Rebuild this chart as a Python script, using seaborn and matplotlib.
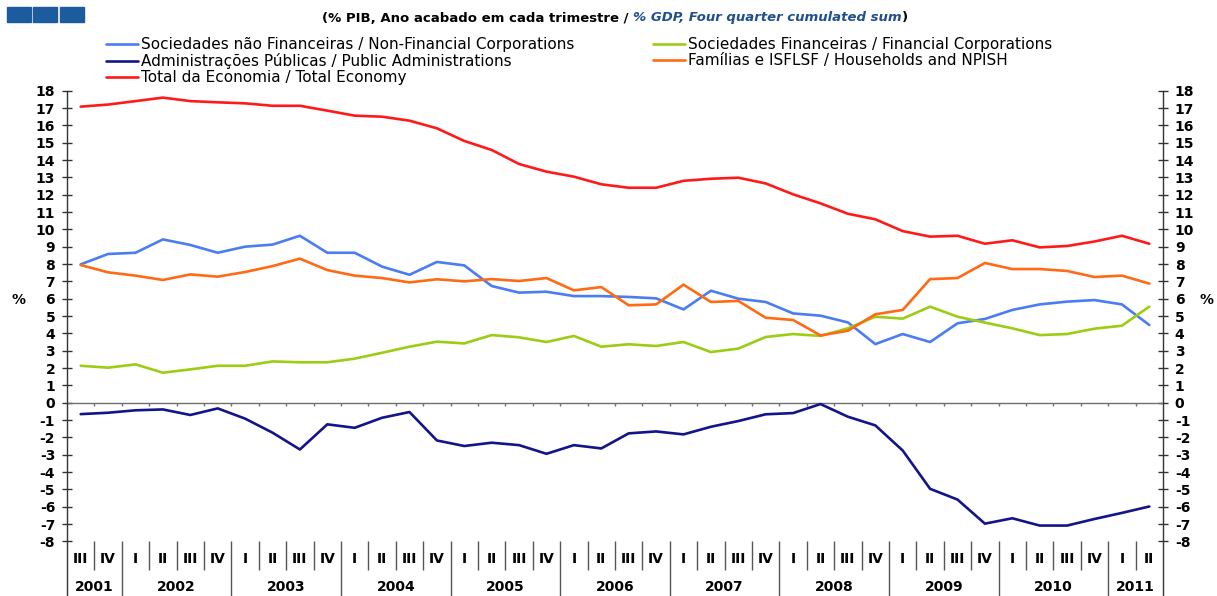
import numpy as np
import pandas as pd
import matplotlib
matplotlib.use("Agg")
import matplotlib.pyplot as plt
from matplotlib.patches import Rectangle
import seaborn as sns

# quarters from 2001 III to 2011 II
quarters = ["III", "IV"] + ["I", "II", "III", "IV"] * 9 + ["I", "II"]
years = ["2001", "2002", "2003", "2004", "2005", "2006",
         "2007", "2008", "2009", "2010", "2011"]

non_financial = [7.98, 8.58, 8.65, 9.42, 9.10, 8.65, 9.00, 9.12, 9.63, 8.65,
                 8.65, 7.85, 7.38, 8.12, 7.92, 6.73, 6.35, 6.40, 6.15, 6.15,
                 6.10, 6.02, 5.38, 6.46, 6.00, 5.81, 5.15, 5.02, 4.63, 3.38,
                 3.96, 3.50, 4.58, 4.83, 5.35, 5.67, 5.83, 5.92, 5.67, 4.48]
financial = [2.13, 2.02, 2.21, 1.73, 1.92, 2.13, 2.13, 2.38, 2.33, 2.33,
             2.54, 2.88, 3.23, 3.52, 3.42, 3.90, 3.77, 3.50, 3.85, 3.23,
             3.37, 3.27, 3.50, 2.92, 3.12, 3.79, 3.96, 3.85, 4.29, 4.96,
             4.85, 5.54, 4.96, 4.62, 4.29, 3.90, 3.96, 4.27, 4.44, 5.54]
public_admin = [-0.66, -0.58, -0.44, -0.39, -0.71, -0.33, -0.92, -1.73, -2.70, -1.25,
                -1.45, -0.87, -0.54, -2.18, -2.50, -2.31, -2.45, -2.95, -2.45, -2.64,
                -1.77, -1.66, -1.83, -1.39, -1.06, -0.67, -0.60, -0.08, -0.81, -1.31,
                -2.76, -4.97, -5.59, -6.98, -6.67, -7.09, -7.09, -6.71, -6.36, -5.99]
households = [7.94, 7.52, 7.33, 7.08, 7.40, 7.27, 7.54, 7.88, 8.31, 7.65,
              7.33, 7.19, 6.94, 7.12, 7.00, 7.13, 7.02, 7.19, 6.48, 6.67,
              5.62, 5.67, 6.81, 5.81, 5.87, 4.90, 4.77, 3.88, 4.15, 5.10,
              5.35, 7.13, 7.19, 8.06, 7.71, 7.71, 7.60, 7.25, 7.33, 6.87]
total_economy = [17.08, 17.20, 17.40, 17.60, 17.40, 17.33, 17.27, 17.13, 17.13, 16.85,
                 16.56, 16.50, 16.27, 15.83, 15.10, 14.58, 13.77, 13.33, 13.04, 12.60,
                 12.40, 12.40, 12.80, 12.92, 12.98, 12.65, 12.02, 11.50, 10.90, 10.58,
                 9.90, 9.58, 9.63, 9.17, 9.37, 8.96, 9.04, 9.30, 9.63, 9.17]

labels = {
    "nfc": "Sociedades não Financeiras / Non-Financial Corporations",
    "pa": "Administrações Públicas / Public Administrations",
    "tot": "Total da Economia / Total Economy",
    "fc": "Sociedades Financeiras / Financial Corporations",
    "hh": "Famílias e ISFLSF / Households and NPISH",
}
colors = {"nfc": "#4a7cf2", "pa": "#14148a", "tot": "#ff1a1a",
          "fc": "#9ccc14", "hh": "#ff6a14"}
series = {"nfc": non_financial, "pa": public_admin, "tot": total_economy,
          "fc": financial, "hh": households}

sns.set_style("white")
plt.rcParams["font.family"] = ["DejaVu Sans"]
plt.rcParams["axes.unicode_minus"] = False
plt.rcParams["text.color"] = "black"
plt.rcParams["ytick.labelcolor"] = "black"

W, H = 1217, 596
fig = plt.figure(figsize=(W / 100, H / 100), dpi=100)

y_top, y_zero, unit = 90.7, 402.7, 17.33
ybottom = -(H - y_zero) / unit
ax = fig.add_axes([67 / W, 0, (1163 - 67) / W, (H - y_top) / H])

x = np.arange(len(quarters))
handles = {}
for key in ["nfc", "pa", "tot", "fc", "hh"]:
    sns.lineplot(x=x, y=series[key], ax=ax, color=colors[key], lw=1.9,
                 label=labels[key])
    handles[key] = ax.lines[-1]
ax.get_legend().remove()

ax.set_xlim(-0.5, len(quarters) - 0.5)
ax.set_ylim(ybottom, 18)
ax.set_yticks(range(-8, 19))
ax.set_xticks([])
for s in ["top", "bottom"]:
    ax.spines[s].set_visible(False)
for s in ["left", "right"]:
    ax.spines[s].set_color("#333333")
    ax.spines[s].set_linewidth(1.0)
ax.tick_params(axis="y", left=True, right=True, labelleft=True, labelright=True,
               direction="inout", length=7, width=1, color="#333333", pad=5,
               labelsize=10, labelcolor="black")
for t in ax.get_yticklabels():
    t.set_fontweight("bold")

# zero line with category ticks
ax.axhline(0, color="#707070", lw=1, zorder=1)
ax.vlines(x[:-1] + 0.5, -0.22, 0, color="#707070", lw=1)

# category labels below the plot
for i, q in enumerate(quarters):
    ax.text(i, -9.0, q, ha="center", va="center", fontsize=10, fontweight="bold")
year_starts = [i for i, q in enumerate(quarters) if q == "I"]
for i in x[:-1]:
    b = i + 0.5
    if (i + 1) in year_starts:
        ax.vlines(b, ybottom, -8, color="#555555", lw=1)
    else:
        ax.vlines(b, -9.65, -8, color="#555555", lw=1)
bounds = [-0.5] + [s - 0.5 for s in year_starts] + [len(quarters) - 0.5]
for k, yr in enumerate(years):
    ax.text((bounds[k] + bounds[k + 1]) / 2, -10.62, yr, ha="center", va="center",
            fontsize=10, fontweight="bold")

fig.text(18 / W, 1 - 300 / H, "%", ha="center", va="center", fontsize=10,
         fontweight="bold")
fig.text(1207 / W, 1 - 300 / H, "%", ha="center", va="center", fontsize=10,
         fontweight="bold")

# legends
leg_kw = dict(loc="upper left", frameon=False, fontsize=11, handlelength=2.1,
              handletextpad=0.2, labelspacing=0.075, borderaxespad=0, borderpad=0,
              labelcolor="black")
fig.legend([handles[k] for k in ["nfc", "pa", "tot"]],
           [labels[k] for k in ["nfc", "pa", "tot"]],
           bbox_to_anchor=(106 / W, 1 - 37 / H), **leg_kw)
fig.legend([handles[k] for k in ["fc", "hh"]],
           [labels[k] for k in ["fc", "hh"]],
           bbox_to_anchor=(653 / W, 1 - 37 / H), **leg_kw)

# logo squares
for x0 in [7, 33, 60]:
    fig.patches.append(Rectangle((x0 / W, 1 - 22 / H), 24 / W, 15 / H,
                                 transform=fig.transFigure, color="#1c5b9e"))

# title in three parts
parts = [("(% PIB, Ano acabado em cada trimestre / ", "black", "normal"),
         ("% GDP, Four quarter cumulated sum", "#1f4f8f", "italic"),
         (")", "black", "normal")]
fig.canvas.draw()
renderer = fig.canvas.get_renderer()
texts = []
for txt, col, sty in parts:
    t = fig.text(0, 1 - 18 / H, txt, color=col, style=sty, fontweight="bold",
                 fontsize=9.5, va="center", ha="left")
    texts.append(t)
widths = [t.get_window_extent(renderer).width for t in texts]
start = 615 - sum(widths) / 2
for t, w in zip(texts, widths):
    t.set_x(start / W)
    start += w

fig.savefig("out.png", dpi=100)
